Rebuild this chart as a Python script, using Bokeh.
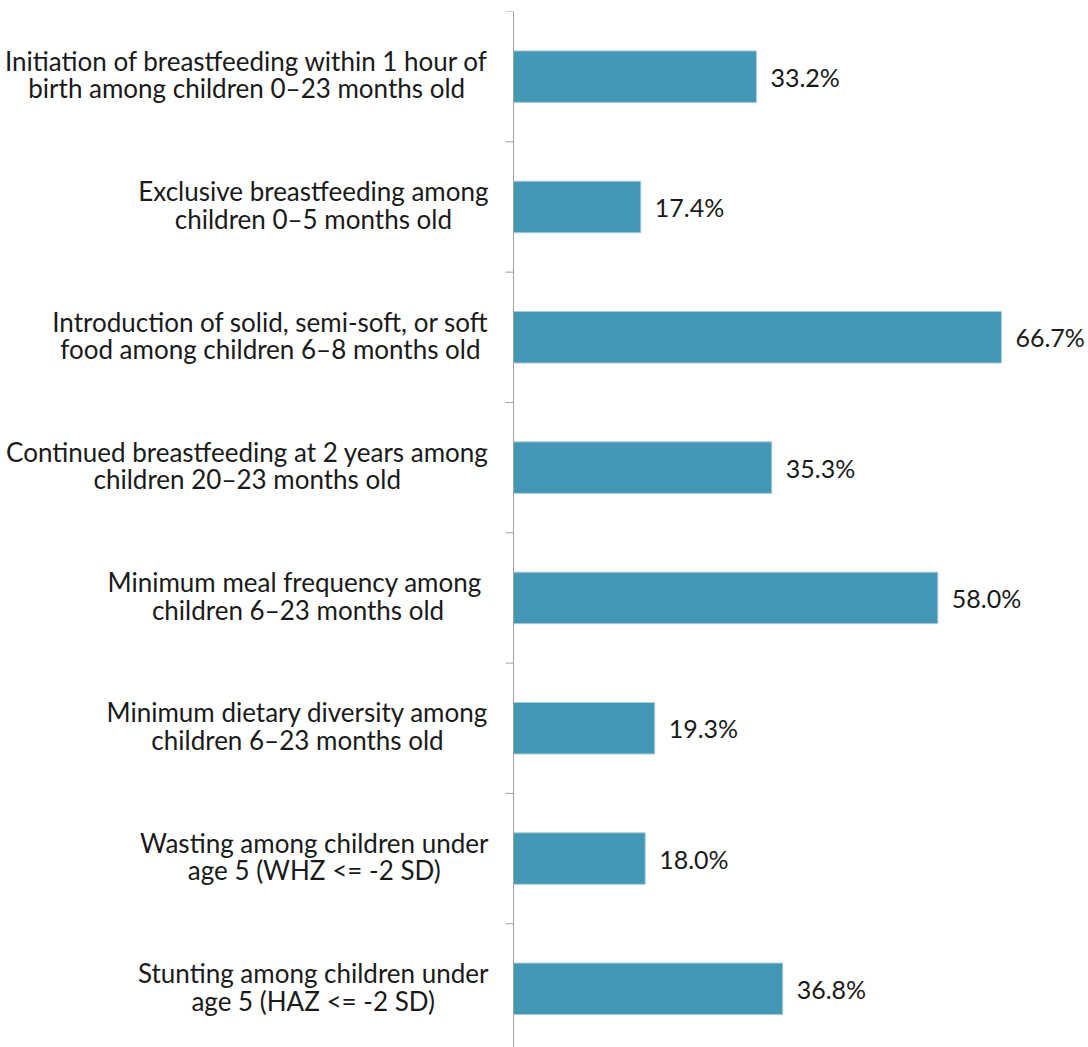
from bokeh.plotting import figure
from bokeh.models import Range1d, ColumnDataSource, Span, Text
from bokeh.embed import file_html
from bokeh.resources import INLINE
from bokeh.core.properties import value

categories = [
    "Initiation of breastfeeding within 1 hour of\nbirth among children 0\u201323 months old",
    "Exclusive breastfeeding among\nchildren 0\u20135 months old",
    "Introduction of solid, semi-soft, or soft\nfood among children 6\u20138 months old",
    "Continued breastfeeding at 2 years among\nchildren 20\u201323 months old",
    "Minimum meal frequency  among\nchildren 6\u201323 months old",
    "Minimum dietary diversity among\nchildren 6\u201323 months old",
    "Wasting among children under\nage 5 (WHZ <= -2 SD)",
    "Stunting among children under\nage 5 (HAZ <= -2 SD)",
]
values = [33.2, 17.4, 66.7, 35.3, 58.0, 19.3, 18.0, 36.8]
value_labels = ["33.2%", "17.4%", "66.7%", "35.3%", "58.0%", "19.3%", "18.0%", "36.8%"]

pos = list(range(len(categories)))
bounds = [i - 0.5 for i in range(len(categories) + 1)]

WIDTH, HEIGHT = 1088, 1047
ZERO_PX = 513          # where the value axis sits
XMAX = 78.6
XMIN = -XMAX * ZERO_PX / (WIDTH - ZERO_PX)
TICK_LEN = 8 * (XMAX - XMIN) / WIDTH   # 8 px expressed in data units

src = ColumnDataSource(dict(y=pos, v=values, lab=value_labels, cat=categories,
                            zero=[0] * len(pos)))
bsrc = ColumnDataSource(dict(y=bounds, x0=[0] * len(bounds), x1=[-TICK_LEN] * len(bounds)))

FONT = "Lato"
TEXT_COLOR = "#1a1a1a"
AXIS_COLOR = "#A0A0A0"

p = figure(width=WIDTH, height=HEIGHT, output_backend="svg", toolbar_location=None,
           x_range=Range1d(XMIN, XMAX), y_range=Range1d(7.45, -0.5),
           min_border_left=0, min_border_right=0, min_border_top=11, min_border_bottom=0)
p.outline_line_color = None
p.xaxis.visible = False
p.yaxis.visible = False
p.xgrid.visible = False
p.ygrid.visible = False

# value axis line and category boundary ticks
p.add_layout(Span(location=0, dimension="height", line_color=AXIS_COLOR, line_width=1))
p.segment(x0="x0", x1="x1", y0="y", y1="y", source=bsrc, line_color=AXIS_COLOR, line_width=1)

p.hbar(y="y", right="v", left=0, height=0.395, source=src,
       fill_color="#4397B4", line_color="#A3CCDB", line_width=1)
p.text(x="v", y="y", text="lab", source=src, x_offset=14,
       text_font=value(FONT), text_font_size="25px", text_color=TEXT_COLOR,
       text_baseline="middle", text_align="left")

if "anchor" in Text.properties():
    cat_kw = dict(text_align="center", anchor="center_right")
else:
    cat_kw = dict(text_align="right", text_baseline="middle")

p.text(x="zero", y="y", text="cat", source=src, x_offset=-25, y_offset=-2,
       text_font=value(FONT), text_font_size="26px", text_color=TEXT_COLOR,
       text_line_height=0.86, **cat_kw)

open("out.html", "w").write(file_html(p, INLINE))
